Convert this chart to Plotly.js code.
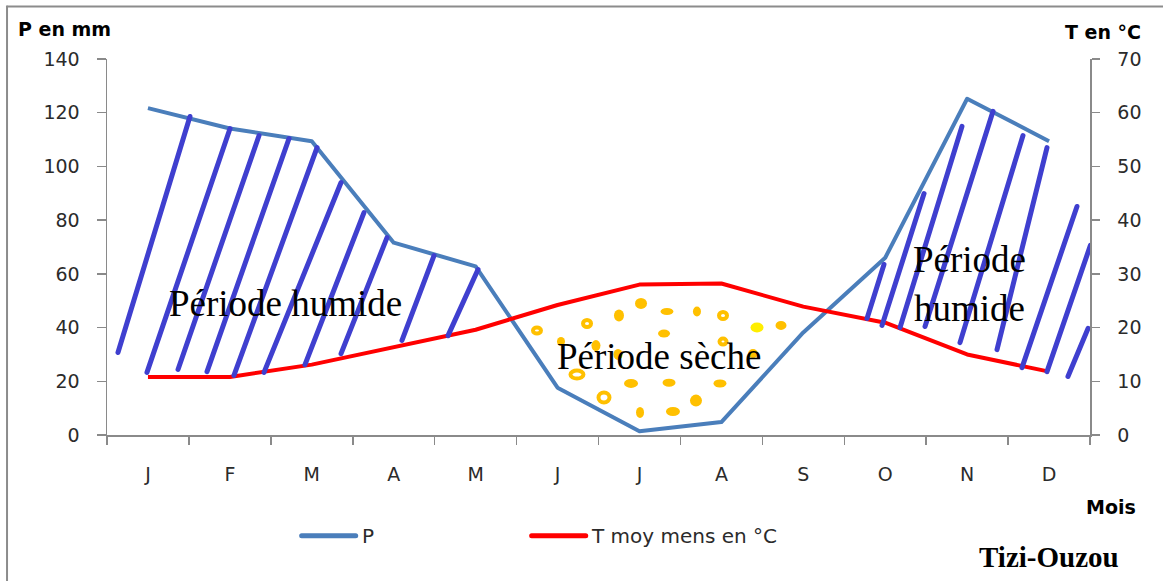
<!DOCTYPE html>
<html>
<head>
<meta charset="utf-8">
<script src="https://cdn.plot.ly/plotly-3.0.1.min.js"></script>
<style>
  html, body { margin: 0; padding: 0; background: #fff; }
  #chart { width: 1163px; height: 581px; }
  .shapelayer path { stroke-linecap: round; stroke-linejoin: round; }
  .scatterlayer .js-line { stroke-linejoin: round; }
</style>
</head>
<body>
<div id="chart"></div>
<script>
// ---- data ----
const monthKeys = ['Jan', 'Fév', 'Mar', 'Avr', 'Mai', 'Juin', 'Juil', 'Août', 'Sep', 'Oct', 'Nov', 'Déc'];
const monthLabels = ['J', 'F', 'M', 'A', 'M', 'J', 'J', 'A', 'S', 'O', 'N', 'D'];
const precipitation = [121.7, 114.1, 109.4, 71.6, 62.8, 17.6, 1.4, 4.8, 38.2, 66.0, 125.2, 109.4];
const temperature = [10.8, 10.8, 13.1, 16.4, 19.6, 24.2, 28.0, 28.2, 23.9, 20.9, 15.0, 11.8];
const pTicks = [0, 20, 40, 60, 80, 100, 120, 140];
const tTicks = [0, 10, 20, 30, 40, 50, 60, 70];

// ---- hand-drawn overlay (hatching for humid period), in axis units ----
const hatchX0 = [-0.366, -0.012, 0.367, 0.721, 1.050, 1.417, 1.917, 2.357, 3.101, 3.663,
                 8.778, 8.961, 9.181, 9.486, 9.913, 10.365, 10.670, 10.975, 11.231];
const hatchY0 = [30.7, 23.3, 24.4, 23.6, 22.2, 23.3, 26.2, 30.3, 35.2, 37.0,
                 43.4, 40.8, 40.0, 40.4, 34.4, 31.8, 25.1, 23.6, 21.8];
const hatchX1 = [0.513, 1.002, 1.356, 1.722, 2.064, 2.357, 2.637, 2.918, 3.492, 4.029,
                 8.985, 9.474, 9.937, 10.316, 10.682, 10.975, 11.341, 11.505, 11.476];
const hatchY1 = [118.6, 114.1, 111.5, 110.4, 107.0, 94.0, 82.8, 73.5, 66.8, 61.6,
                 63.5, 89.9, 114.9, 120.5, 111.5, 107.0, 85.1, 70.6, 39.7];

// ---- dots for dry period ----
const dotX = [4.749, 5.360, 5.750, 6.019, 6.336, 6.702, 7.020, 7.435, 7.728, 5.042, 5.469, 5.738,
              6.300, 7.020, 7.386, 5.237, 5.897, 6.361, 6.983, 5.567, 6.007, 6.409, 6.690];
const dotY = [38.9, 41.5, 44.5, 49.0, 46.0, 46.0, 44.5, 40.0, 40.8, 34.8, 33.3, 30.0,
              37.8, 34.8, 30.3, 22.5, 19.2, 19.5, 19.2, 14.0, 8.4, 8.75, 12.8];
const dotW = [11, 11, 10, 12, 13, 8, 11, 13, 11, 8, 9, 9, 12, 10, 10, 16, 14, 13, 13, 14, 8, 14, 12];
const dotH = [9, 10, 12, 11, 7, 10, 10, 10, 9, 9, 11, 11, 8, 9, 9, 11, 9, 8, 8, 13, 11, 9, 12];
const dotKind = ['ring', 'ring', 'fill', 'fill', 'fill', 'fill', 'ring', 'yellow', 'fill', 'fill', 'fill', 'fill',
                 'fill', 'ring', 'fill', 'ring', 'fill', 'fill', 'fill', 'ring', 'fill', 'fill', 'fill'];

// ---- build ----
const axisGray = '#8a8a8a';
const tickFont = { family: 'DejaVu Sans, sans-serif', size: 19, color: '#2b2b2b' };
const legendFont = { family: 'DejaVu Sans, sans-serif', size: 20, color: '#2b2b2b' };
const boldFont = { family: 'DejaVu Sans, sans-serif', size: 19, color: '#000', weight: 'bold' };

const traces = [
  {
    x: monthKeys, y: precipitation, name: 'P', type: 'scatter', mode: 'lines',
    line: { color: '#4A7EBB', width: 4 }, xaxis: 'x', yaxis: 'y', showlegend: false
  },
  {
    x: monthKeys, y: temperature, name: 'T moy mens en °C', type: 'scatter', mode: 'lines',
    line: { color: '#FF0000', width: 4 }, xaxis: 'x', yaxis: 'y2', showlegend: false
  }
];

const shapes = [];
// outer frame (top and left)
shapes.push({ type: 'line', xref: 'paper', yref: 'paper', x0: -0.1017, x1: 1.08, y0: 1.1396, y1: 1.1396,
  line: { color: '#8c8c8c', width: 2 }, layer: 'below' });
shapes.push({ type: 'line', xref: 'paper', yref: 'paper', x0: -0.1017, x1: -0.1017, y0: 1.1396, y1: -0.40,
  line: { color: '#8c8c8c', width: 2 }, layer: 'below' });

for (let i = 0; i < hatchX0.length; i++) {
  shapes.push({ type: 'line', xref: 'x', yref: 'y', x0: hatchX0[i], y0: hatchY0[i], x1: hatchX1[i], y1: hatchY1[i],
    line: { color: '#3F3FCF', width: 5 } });
}
for (let i = 0; i < dotX.length; i++) {
  const k = dotKind[i];
  const w = dotW[i], h = dotH[i];
  const ring = k === 'ring';
  shapes.push({
    type: 'circle', xref: 'x', yref: 'y', xsizemode: 'pixel', ysizemode: 'pixel',
    xanchor: dotX[i], yanchor: dotY[i],
    x0: -(ring ? w - 3 : w) / 2, x1: (ring ? w - 3 : w) / 2,
    y0: -(ring ? h - 3 : h) / 2, y1: (ring ? h - 3 : h) / 2,
    fillcolor: ring ? '#FFFFFF' : (k === 'yellow' ? '#FFEE00' : '#FFC000'),
    line: { color: k === 'yellow' ? '#FFEE00' : '#FFC000', width: ring ? 4 : 0 }
  });
}
// legend samples
shapes.push({ type: 'line', xref: 'paper', yref: 'paper', x0: 0.198, x1: 0.253, y0: -0.268, y1: -0.268,
  line: { color: '#4A7EBB', width: 5 } });
shapes.push({ type: 'line', xref: 'paper', yref: 'paper', x0: 0.432, x1: 0.487, y0: -0.268, y1: -0.268,
  line: { color: '#FF0000', width: 5 } });

const annotations = [
  { text: 'P en mm', xref: 'paper', yref: 'paper', x: -0.0433, y: 1.0811, xanchor: 'center', yanchor: 'middle',
    showarrow: false, font: boldFont },
  { text: 'T en °C', xref: 'paper', yref: 'paper', x: 1.0132, y: 1.0705, xanchor: 'center', yanchor: 'middle',
    showarrow: false, font: boldFont },
  { text: 'Mois', xref: 'paper', yref: 'paper', x: 1.0214, y: -0.1915, xanchor: 'center', yanchor: 'middle',
    showarrow: false, font: boldFont },
  { text: 'P', xref: 'paper', yref: 'paper', x: 0.257, y: -0.268, xanchor: 'left', yanchor: 'middle',
    showarrow: false, font: legendFont },
  { text: 'T moy mens en °C', xref: 'paper', yref: 'paper', x: 0.490, y: -0.268, xanchor: 'left', yanchor: 'middle',
    showarrow: false, font: legendFont },
  { text: 'Tizi-Ouzou', xref: 'paper', yref: 'paper', x: 0.958, y: -0.3245, xanchor: 'center', yanchor: 'middle',
    showarrow: false, font: { family: 'Liberation Serif, serif', size: 29, color: '#000', weight: 'bold' } },
  { text: 'Période humide', xref: 'x', yref: 'y', x: 1.673, y: 49.0, xanchor: 'center', yanchor: 'middle',
    showarrow: false, font: { family: 'Liberation Serif, serif', size: 37, color: '#000' } },
  { text: 'Période sèche', xref: 'x', yref: 'y', x: 6.239, y: 29.2, xanchor: 'center', yanchor: 'middle',
    showarrow: false, font: { family: 'Liberation Serif, serif', size: 37, color: '#000' } },
  { text: 'Période', xref: 'x', yref: 'y', x: 10.029, y: 65.3, xanchor: 'center', yanchor: 'middle',
    showarrow: false, font: { family: 'Liberation Serif, serif', size: 37, color: '#000' } },
  { text: 'humide', xref: 'x', yref: 'y', x: 10.035, y: 47.1, xanchor: 'center', yanchor: 'middle',
    showarrow: false, font: { family: 'Liberation Serif, serif', size: 37, color: '#000' } }
];

const layout = {
  width: 1163, height: 581,
  margin: { l: 107, r: 73, t: 59, b: 146, pad: 0 },
  paper_bgcolor: '#ffffff', plot_bgcolor: '#ffffff',
  showlegend: false,
  xaxis: {
    type: 'category', range: [-0.5, 11.5], tickmode: 'array', tickvals: monthKeys, ticktext: monthLabels,
    tickson: 'boundaries', ticks: 'outside', ticklen: 8, tickcolor: axisGray, tickwidth: 1.5,
    showline: true, linecolor: axisGray, linewidth: 1.5, showgrid: false, zeroline: false,
    tickfont: tickFont, ticklabelstandoff: 22, automargin: false, fixedrange: true
  },
  yaxis: {
    range: [0, 140], tickmode: 'array', tickvals: pTicks, ticks: 'outside', ticklen: 9,
    tickcolor: axisGray, tickwidth: 1.5, showline: true, linecolor: axisGray, linewidth: 1.5,
    showgrid: false, zeroline: false, tickfont: tickFont, ticklabelstandoff: 13, automargin: false
  },
  yaxis2: {
    range: [0, 70], tickmode: 'array', tickvals: tTicks, overlaying: 'y', side: 'right', anchor: 'x',
    ticks: 'outside', ticklen: 8, tickcolor: axisGray, tickwidth: 1.5, showline: true,
    linecolor: axisGray, linewidth: 1.5, showgrid: false, zeroline: false, tickfont: tickFont,
    ticklabelstandoff: 14, automargin: false
  },
  shapes: shapes,
  annotations: annotations
};

Plotly.newPlot('chart', traces, layout, { staticPlot: true, displayModeBar: false });
</script>
</body>
</html>
